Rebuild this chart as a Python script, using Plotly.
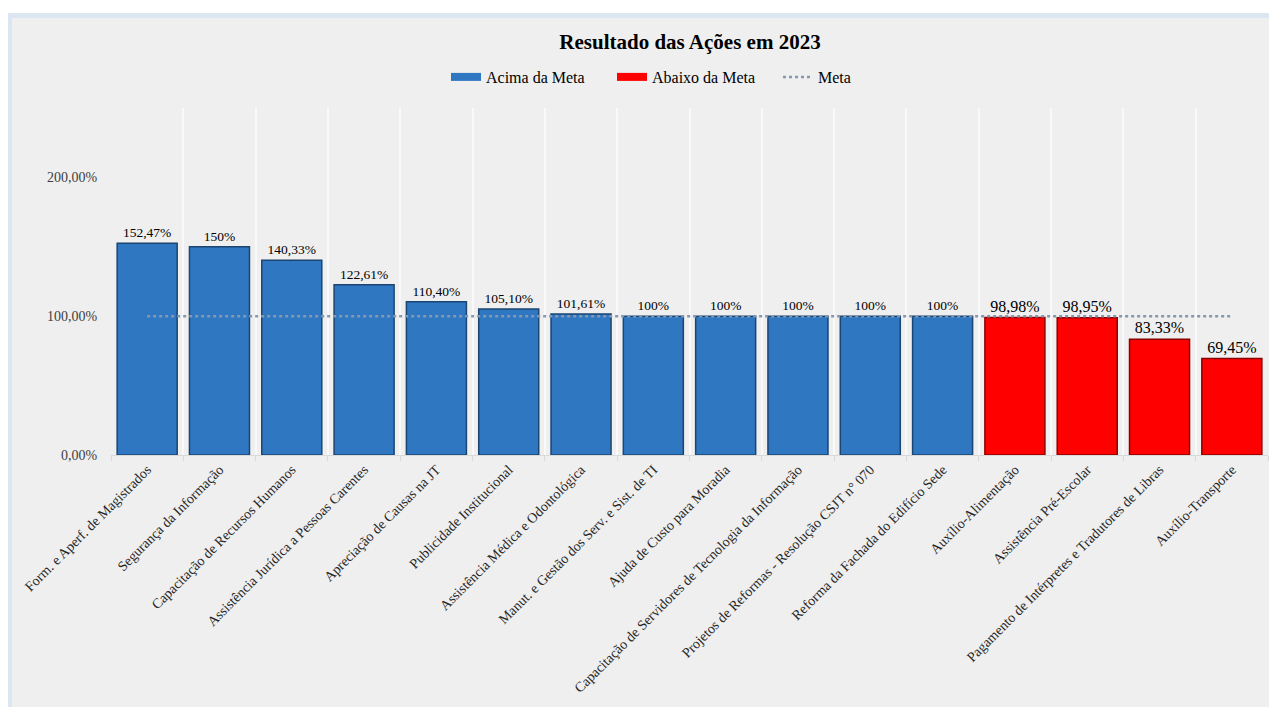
import plotly.graph_objects as go

categories = [
    "Form. e Aperf. de Magistrados",
    "Segurança da Informação",
    "Capacitação de Recursos Humanos",
    "Assistência Jurídica a Pessoas Carentes",
    "Apreciação de Causas na JT",
    "Publicidade Institucional",
    "Assistência Médica e Odontológica",
    "Manut. e Gestão dos Serv. e Sist. de TI",
    "Ajuda de Custo para Moradia",
    "Capacitação de Servidores de Tecnologia da Informação",
    "Projetos de Reformas - Resolução CSJT n° 070",
    "Reforma da Fachada do Edifício Sede",
    "Auxílio-Alimentação",
    "Assistência Pré-Escolar",
    "Pagamento de Intérpretes e Tradutores de Libras",
    "Auxílio-Transporte",
]
acima_values = [152.47, 150, 140.33, 122.61, 110.40, 105.10, 101.61, 100, 100, 100, 100, 100,
                None, None, None, None]
acima_labels = ["152,47%", "150%", "140,33%", "122,61%", "110,40%", "105,10%", "101,61%",
                "100%", "100%", "100%", "100%", "100%", "", "", "", ""]
abaixo_values = [None] * 12 + [98.98, 98.95, 83.33, 69.45]
abaixo_labels = [""] * 12 + ["98,98%", "98,95%", "83,33%", "69,45%"]
meta_values = [100] * 16
y_tick_vals = [0, 100, 200]
y_tick_text = ["0,00%", "100,00%", "200,00%"]

FONT = "Liberation Serif"
BLUE = "#2f77c0"
RED = "#ff0000"
OFF = 8  # page body margin
W, H = 1277 - OFF, 707 - OFF
ML, MR, MT, MB = 111 - OFF, 9, 108 - OFF, 252
PW = W - ML - MR
PH = H - MT - MB


def px_x(p):
    return (p - OFF - ML) / PW


def px_y(p):
    return (H - MB - (p - OFF)) / PH


fig = go.Figure()
fig.add_trace(go.Bar(
    x=categories, y=acima_values, name="Acima da Meta", showlegend=False,
    legendgroup="acima",
    marker=dict(color=BLUE, line=dict(color="#1b4572", width=1.5)),
    text=acima_labels, textposition="outside",
    textfont=dict(family=FONT, size=13.5, color="#000000"),
    width=0.83, cliponaxis=False,
))
fig.add_trace(go.Bar(
    x=categories, y=abaixo_values, name="Abaixo da Meta", showlegend=False,
    legendgroup="abaixo",
    marker=dict(color=RED, line=dict(color="#8b0000", width=1.5)),
    text=abaixo_labels, textposition="outside",
    textfont=dict(family=FONT, size=16, color="#000000"),
    width=0.83, cliponaxis=False,
))
# legend entries drawn as wide bar-like swatches
fig.add_trace(go.Scatter(x=[None], y=[None], mode="lines", name="Acima da Meta",
                         legendgroup="acima", line=dict(color=BLUE, width=8)))
fig.add_trace(go.Scatter(x=[None], y=[None], mode="lines", name="Abaixo da Meta",
                         legendgroup="abaixo", line=dict(color=RED, width=8)))
fig.add_trace(go.Scatter(
    x=categories, y=meta_values, name="Meta", mode="lines",
    line=dict(color="#8498b0", width=2.5, dash="dot"),
))

fig.update_layout(
    width=W, height=H,
    margin=dict(l=ML, r=MR, t=MT, b=MB),
    paper_bgcolor="#ffffff",
    plot_bgcolor="rgba(0,0,0,0)",
    barmode="overlay",
    font=dict(family=FONT, color="#000000"),
    title=dict(text="<b>Resultado das Ações em 2023</b>", x=px_x(690), xanchor="center",
               xref="paper", y=1 - (42 - OFF) / H, yanchor="middle",
               font=dict(family=FONT, size=21, color="#000000")),
    legend=dict(orientation="h", x=px_x(446), xanchor="left", y=px_y(77), yanchor="middle",
                font=dict(family=FONT, size=16, color="#000000"), bgcolor="rgba(0,0,0,0)",
                traceorder="normal", entrywidth=121, entrywidthmode="pixels"),
    showlegend=True,
    shapes=[
        dict(type="rect", xref="paper", yref="paper",
             x0=px_x(7), x1=px_x(1300), y0=px_y(730), y1=px_y(13),
             fillcolor="#dce6f2", line=dict(width=0), layer="below"),
        dict(type="rect", xref="paper", yref="paper",
             x0=px_x(12), x1=px_x(1300), y0=px_y(730), y1=px_y(18),
             fillcolor="#efefef", line=dict(width=0), layer="below"),
    ],
)
fig.update_xaxes(
    tickangle=-45, tickson="boundaries", showgrid=True, gridcolor="#f9f9f9", gridwidth=1.5,
    ticks="outside", ticklen=5, tickcolor="#d9d9d9", showline=True, linecolor="#d9d9d9",
    tickfont=dict(family=FONT, size=14, color="#262626"),
)
fig.update_yaxes(
    range=[0, 250], tickvals=y_tick_vals, ticktext=y_tick_text, showgrid=False,
    zeroline=False, showline=False,
    tickfont=dict(family=FONT, size=14, color="#404040"),
    ticks="outside", ticklen=10, tickcolor="rgba(0,0,0,0)",
)

fig.write_html("out.html")
